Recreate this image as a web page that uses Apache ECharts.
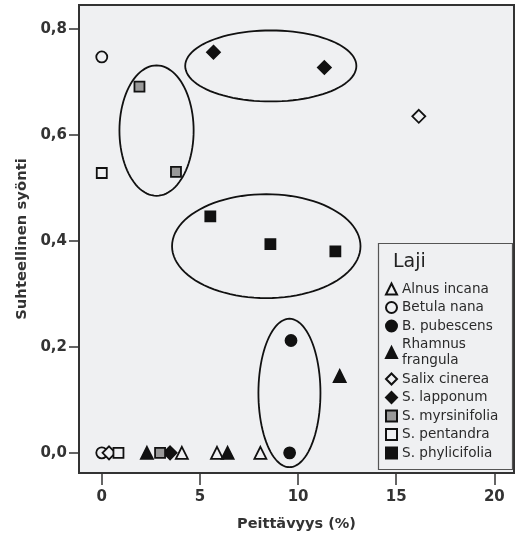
<!DOCTYPE html>
<html>
<head>
<meta charset="utf-8">
<script src="https://cdn.jsdelivr.net/npm/echarts@6/dist/echarts.min.js"></script>
<style>
  html, body { margin: 0; padding: 0; background: #fff; }
  #main { width: 518px; height: 539px; }
</style>
</head>
<body>
<div id="main"></div>
<script>
// species and their points [cover %, relative feeding]
var species = ['Alnus incana', 'Betula nana', 'B. pubescens', 'Rhamnus frangula', 'Salix cinerea',
  'S. lapponum', 'S. myrsinifolia', 'S. pentandra', 'S. phylicifolia'];
var alnus = [[4.08, 0], [5.87, 0], [8.08, 0]];
var betula = [[0, 0.747], [0, 0]];
var pubescens = [[9.64, 0.212], [9.57, 0]];
var rhamnus = [[12.12, 0.145], [2.3, 0], [6.41, 0]];
var cinerea = [[16.15, 0.635], [0.37, 0]];
var lapponum = [[5.69, 0.756], [11.34, 0.727], [3.48, 0]];
var myrsinifolia = [[1.92, 0.691], [3.78, 0.53], [2.97, 0]];
var pentandra = [[0, 0.528], [0.85, 0]];
var phylicifolia = [[5.53, 0.446], [8.59, 0.394], [11.9, 0.38]];

var xTicks = [0, 5, 10, 15, 20];
var yTicks = [0, 0.2, 0.4, 0.6, 0.8];

// hand-drawn group ellipses: center x, center y, radius x, radius y (data units)
var ellipses = [
  [8.61, 0.730, 4.36, 0.067],
  [2.79, 0.608, 1.89, 0.123],
  [8.38, 0.390, 4.80, 0.098],
  [9.56, 0.113, 1.58, 0.140]
];

var bg = '#eff0f2';
var font = 'DejaVu Sans';

function sc(name, data, symbol, size, fill) {
  return {
    name: name,
    type: 'scatter',
    data: data,
    symbol: symbol,
    symbolSize: size,
    itemStyle: { color: fill, borderColor: '#111', borderWidth: 1.8, opacity: 1 }
  };
}

var chartDom = document.getElementById('main');
var myChart = echarts.init(chartDom);
var option;

option = {
  animation: false,
  grid: {
    left: 79, right: 4, top: 5, bottom: 66,
    show: true, backgroundColor: bg, borderColor: '#333', borderWidth: 2
  },
  xAxis: {
    type: 'value',
    min: -1.16, max: 21,
    name: 'Peittävyys (%)',
    nameLocation: 'middle',
    nameGap: 44,
    nameTextStyle: { fontFamily: font, fontSize: 14.5, fontWeight: 'bold', color: '#333' },
    splitLine: { show: false },
    axisLine: { show: false, onZero: false },
    axisTick: { show: true, length: 12, customValues: xTicks, lineStyle: { color: '#333', width: 1.5 } },
    axisLabel: { customValues: xTicks, fontFamily: font, fontSize: 15, fontWeight: 'bold', color: '#333', margin: 17 }
  },
  yAxis: {
    type: 'value',
    min: -0.038, max: 0.845,
    name: 'Suhteellinen syönti',
    nameLocation: 'middle',
    nameGap: 49,
    nameTextStyle: { fontFamily: font, fontSize: 14.8, fontWeight: 'bold', color: '#333' },
    splitLine: { show: false },
    axisLine: { show: false, onZero: false },
    axisTick: { show: true, length: 10, customValues: yTicks, lineStyle: { color: '#333', width: 1.5 } },
    axisLabel: {
      customValues: yTicks, fontFamily: font, fontSize: 15, fontWeight: 'bold', color: '#333', margin: 12,
      formatter: function (v) { return v.toFixed(1).replace('.', ','); }
    }
  },
  legend: {
    data: species,
    orient: 'vertical',
    left: 380, top: 276,
    itemWidth: 11, itemHeight: 11, itemGap: 2.5,
    z: 6,
    textStyle: { fontFamily: font, fontSize: 13.6, color: '#2a2a2a', lineHeight: 16 },
    formatter: function (n) { return n === 'Rhamnus frangula' ? 'Rhamnus\nfrangula' : n; }
  },
  graphic: [
    { type: 'rect', z: 3, shape: { x: 378.5, y: 243.5, width: 134, height: 226 },
      style: { fill: bg, stroke: '#555', lineWidth: 1.2 } },
    { type: 'text', z: 7, x: 393, y: 262,
      style: { text: 'Laji', fontFamily: font, fontSize: 19, fill: '#222', verticalAlign: 'middle' } }
  ],
  series: [
    sc('Alnus incana', alnus, 'triangle', 12, bg),
    sc('Betula nana', betula, 'circle', 11, bg),
    sc('B. pubescens', pubescens, 'circle', 11, '#111'),
    sc('Rhamnus frangula', rhamnus, 'triangle', 12, '#111'),
    sc('Salix cinerea', cinerea, 'diamond', 13, bg),
    sc('S. lapponum', lapponum, 'diamond', 13, '#111'),
    sc('S. myrsinifolia', myrsinifolia, 'rect', 10, '#999'),
    sc('S. pentandra', pentandra, 'rect', 10, bg),
    sc('S. phylicifolia', phylicifolia, 'rect', 10, '#111'),
    {
      type: 'custom',
      name: 'groups',
      data: ellipses,
      silent: true,
      z: 1,
      renderItem: function (params, api) {
        var cx = api.value(0), cy = api.value(1), rx = api.value(2), ry = api.value(3);
        var pts = [];
        for (var i = 0; i < 96; i++) {
          var t = i / 96 * Math.PI * 2;
          pts.push(api.coord([cx + rx * Math.cos(t), cy + ry * Math.sin(t)]));
        }
        return {
          type: 'polygon',
          shape: { points: pts },
          style: { fill: null, stroke: '#111', lineWidth: 1.8 }
        };
      }
    }
  ]
};

option && myChart.setOption(option);
</script>
</body>
</html>
